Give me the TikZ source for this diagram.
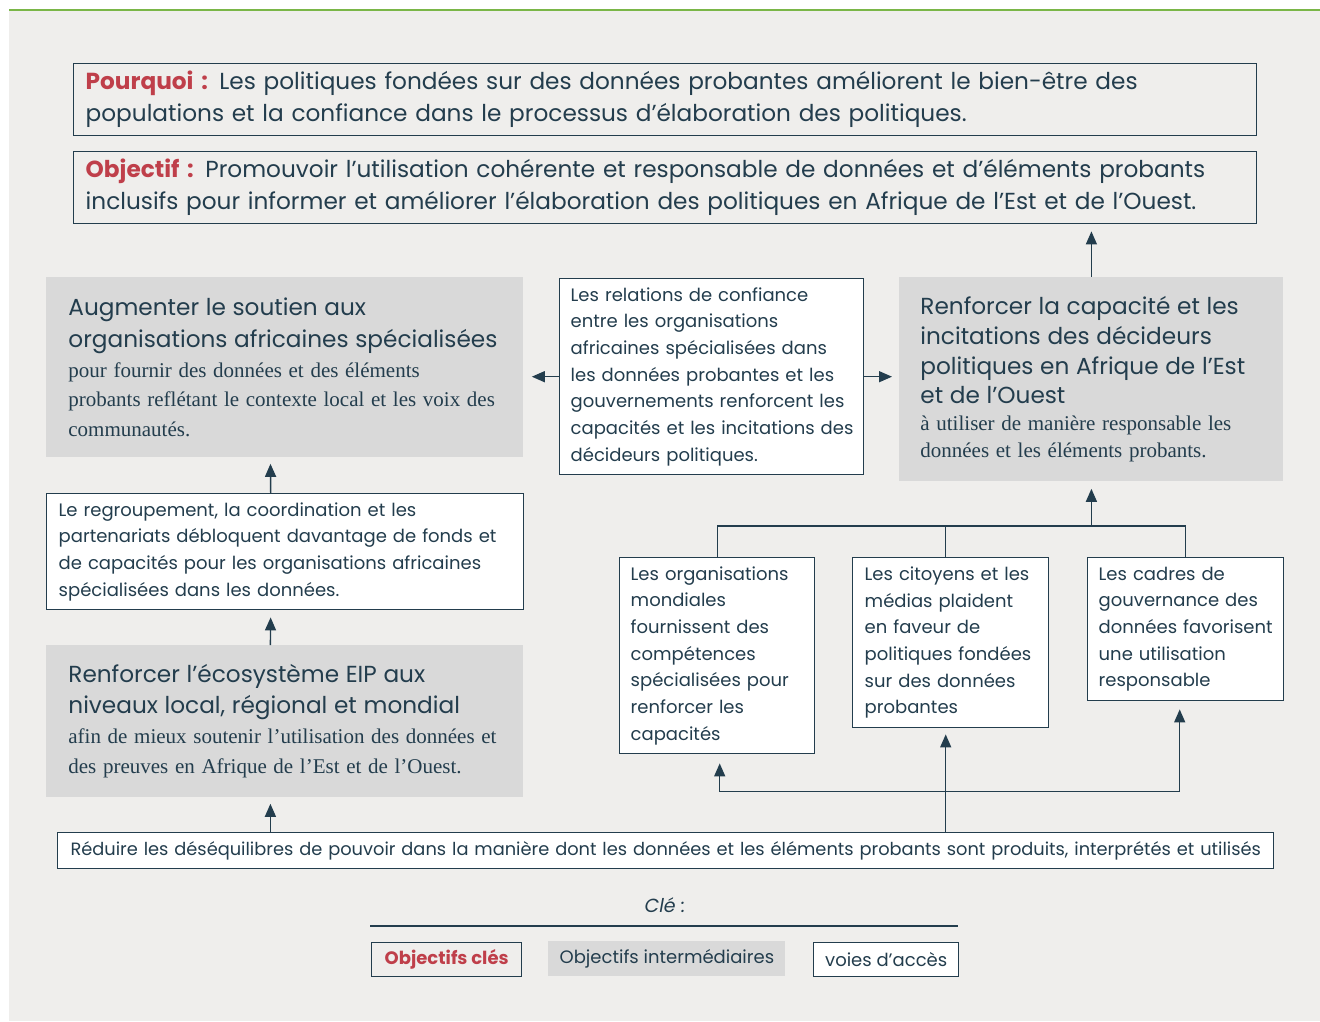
\documentclass[tikz,border=0pt]{standalone}
\usepackage{fontspec}
\setmainfont{Liberation Serif}
\setsansfont{Poppins}
\usetikzlibrary{arrows.meta}

\definecolor{slate}{HTML}{233D4D}
\definecolor{keyred}{HTML}{BF3F4A}
\definecolor{panel}{HTML}{EFEEEC}
\definecolor{midgrey}{HTML}{D9D9D9}
\definecolor{topgreen}{HTML}{7AB648}

\newcommand{\goaltitle}[2][16]{{\sffamily\fontsize{11.6}{#1}\selectfont #2\par}}
\newcommand{\goalbody}[2][14.75]{{\rmfamily\fontsize{10.5}{#1}\selectfont #2\par}}

\begin{document}
\begin{tikzpicture}[x=0.5pt, y=-0.5pt, >={Triangle[length=6.5pt,width=5.5pt]},
    every node/.style={text=slate},
    lpad/.style={inner xsep=0pt, execute at begin node={\leftskip=#1\relax}},
    keybox/.style={draw=slate, line width=0.7pt, anchor=north west, inner ysep=0pt, align=left,
        font=\sffamily\fontsize{11.6}{16}\selectfont},
    goalbox/.style={fill=midgrey, anchor=north west, inner ysep=0pt, align=left},
    pathbox/.style={draw=slate, fill=white, line width=0.7pt, anchor=north west, inner ysep=0pt, align=left,
        font=\sffamily\fontsize{9}{13.35}\selectfont},
    link/.style={draw=slate, line width=0.7pt}]
        % ==== PANEL ====
        \useasboundingbox (0,0) rectangle (1320,1021);
        \fill[panel] (9,11) rectangle (1320,1021);
        \draw[topgreen, line width=1.1pt] (9,10) -- (1320,10);

        % ==== KEY OBJECTIVES ====
        \node[keybox, minimum width=591.5pt, minimum height=36pt, text width=591.5pt, lpad=6pt] (why) at (73,63)
            {\textcolor{keyred}{\textbf{Pourquoi :}} Les politiques fondées sur des données probantes améliorent le bien-être des\\
             populations et la confiance dans le processus d’élaboration des politiques.};
        \node[keybox, minimum width=591.5pt, minimum height=36pt, text width=591.5pt, lpad=6pt] (goal) at (73,151)
            {\textcolor{keyred}{\textbf{Objectif :}} Promouvoir l’utilisation cohérente et responsable de données et d’éléments probants\\
             inclusifs pour informer et améliorer l’élaboration des politiques en Afrique de l’Est et de l’Ouest.};

        % ==== INTERMEDIATE OBJECTIVES ====
        \node[goalbox, minimum width=238.5pt, minimum height=90pt, text width=238.5pt, lpad=11pt] (support) at (46,277)
            {\goaltitle{Augmenter le soutien aux\\ organisations africaines spécialisées}
             \goalbody{pour fournir des données et des éléments\\ probants reflétant le contexte local et les voix des\\ communautés.}};
        \node[goalbox, minimum width=192pt, minimum height=102pt, text width=192pt, lpad=10.5pt] (ability) at (899,277)
            {\goaltitle[14.85]{Renforcer la capacité et les\\ incitations des décideurs\\ politiques en Afrique de l’Est\\ et de l’Ouest}
             \goalbody[13.5]{à utiliser de manière responsable les\\ données et les éléments probants.}};
        \node[goalbox, minimum width=238.5pt, minimum height=76pt, text width=238.5pt, lpad=11pt] (system) at (46,645)
            {\goaltitle[15.5]{Renforcer l’écosystème EIP aux\\ niveaux local, régional et mondial}
             \goalbody[15]{afin de mieux soutenir l’utilisation des données et\\ des preuves en Afrique de l’Est et de l’Ouest.}};

        % ==== PATHWAYS ====
        \node[pathbox, minimum width=152pt, minimum height=98pt, text width=152pt, lpad=5.5pt] (trust) at (559,278)
            {Les relations de confiance\\ entre les organisations\\ africaines spécialisées dans\\ les données probantes et les\\
             gouvernements renforcent les\\ capacités et les incitations des\\ décideurs politiques.};
        \node[pathbox, minimum width=238.5pt, minimum height=58pt, text width=238.5pt, lpad=6pt] (pool) at (46,493)
            {Le regroupement, la coordination et les\\ partenariats débloquent davantage de fonds et\\
             de capacités pour les organisations africaines\\ spécialisées dans les données.};
        \node[pathbox, minimum width=97.5pt, minimum height=98pt, text width=97.5pt, lpad=5.5pt] (global) at (619,557)
            {Les organisations\\ mondiales\\ fournissent des\\ compétences\\ spécialisées pour\\ renforcer les\\ capacités};
        \node[pathbox, minimum width=98pt, minimum height=85pt, text width=98pt, lpad=6pt] (media) at (852,557)
            {Les citoyens et les\\ médias plaident\\ en faveur de\\ politiques fondées\\ sur des données\\ probantes};
        \node[pathbox, minimum width=98pt, minimum height=71.5pt, text width=98pt, lpad=5.5pt] (rules) at (1087,557)
            {Les cadres de\\ gouvernance des\\ données favorisent\\ une utilisation\\ responsable};
        \node[pathbox, minimum width=608pt, minimum height=18pt, text width=608pt, inner xsep=0pt, align=center,
            font=\sffamily\fontsize{8.9}{10}\selectfont] (reduce) at (57,832)
            {Réduire les déséquilibres de pouvoir dans la manière dont les données et les éléments probants sont produits, interprétés et utilisés};

        % ==== CONNECTORS ====
        \draw[link, ->, shorten >=3.5pt] (ability.north) -- (ability.north |- goal.south);
        \draw[link, ->, shorten >=4pt] (trust.west) -- (trust.west -| support.east);
        \draw[link, ->, shorten >=3.5pt] (trust.east) -- (trust.east -| ability.west);
        \draw[link, ->, shorten >=3pt] ([xshift=-7.25pt]pool.north) -- ([xshift=-7.25pt]support.south);
        \draw[link, ->, shorten >=3.5pt] ([xshift=-7.25pt]system.north) -- ([xshift=-7.25pt]pool.south);
        \draw[link, ->, shorten >=3pt] ([xshift=-7.25pt]system.south |- reduce.north) -- ([xshift=-7.25pt]system.south);
        \coordinate (fork) at ([yshift=-22pt]ability.south);
        \draw[link] (global.north) |- (fork) -| (rules.north);
        \draw[link] ([xshift=-2.5pt]media.north) -- ([xshift=-2.5pt]media.north |- fork);
        \draw[link, ->, shorten >=3.5pt] (fork) -- (ability.south);
        \coordinate (split) at ([xshift=-2.5pt,yshift=-31.5pt]media.south);
        \draw[link, ->, shorten >=3pt] (split |- reduce.north) -- ([xshift=-2.5pt]media.south);
        \draw[link, ->, shorten >=4.5pt] (split) -| ([xshift=1.25pt]global.south);
        \draw[link, ->, shorten >=4pt] (split) -| ([xshift=-3pt]rules.south);

        % ==== KEY ====
        \node[font=\sffamily\itshape\fontsize{9.5}{11}\selectfont] (keytitle) at (665,905) {Clé :};
        \coordinate (ruleL) at (370,926);
        \coordinate (ruleR) at (958,926);
        \draw[link] (ruleL) -- (ruleR);
        \node[keybox, minimum width=75pt, minimum height=17pt, align=center, text=keyred,
            font=\sffamily\bfseries\fontsize{9}{11}\selectfont] (keyA) at (371,942) {Objectifs clés};
        \node[goalbox, minimum width=118.5pt, minimum height=17.5pt, align=center,
            font=\sffamily\fontsize{9}{11}\selectfont] (keyB) at (548,941) {Objectifs intermédiaires};
        \node[pathbox, minimum width=72.5pt, minimum height=17pt, align=center,
            font=\sffamily\fontsize{9}{11}\selectfont] (keyC) at (813,942) {voies d’accès};
\end{tikzpicture}
\end{document}
